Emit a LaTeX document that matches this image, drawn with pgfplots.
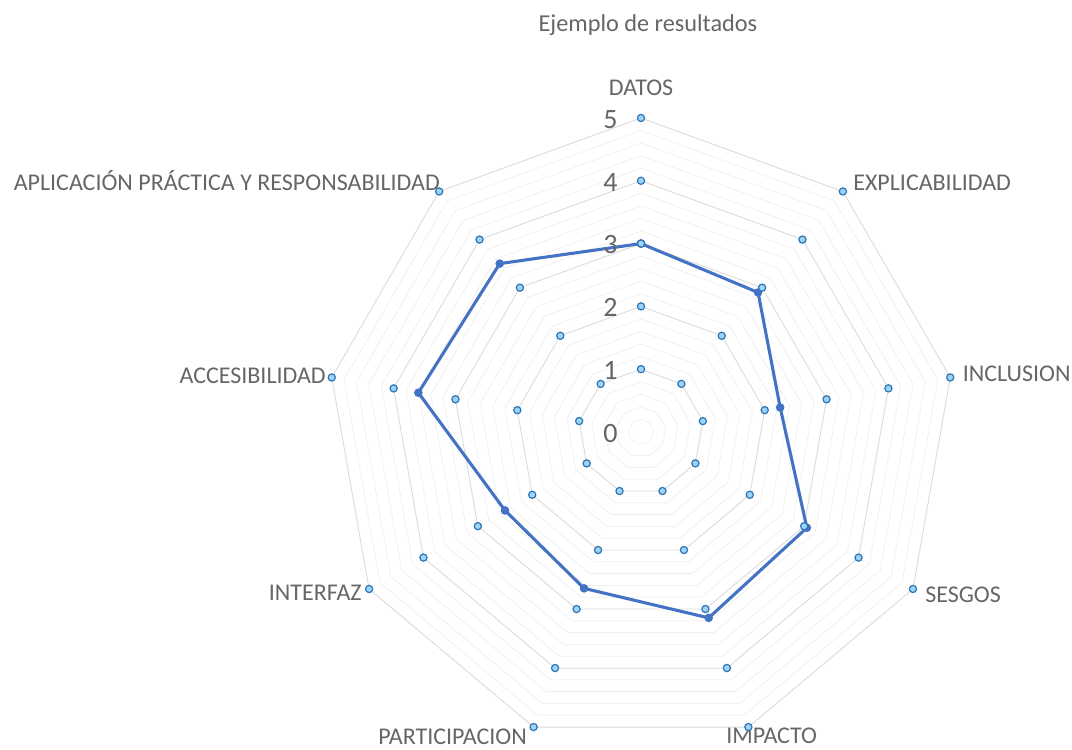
\documentclass[border=0pt]{standalone}
\usepackage{fontspec}
\setmainfont{Carlito}
\usepackage{pgfplots}
\pgfplotsset{compat=1.18}
\definecolor{txt}{HTML}{666666}
\definecolor{mainblue}{HTML}{4472C4}
\definecolor{mkfill}{HTML}{9DD3F5}
\definecolor{mkedge}{HTML}{2E75B6}
\definecolor{majgrid}{HTML}{DCDCDC}
\definecolor{mingrid}{HTML}{F0F0F0}
\begin{document}
\begin{tikzpicture}
\begin{axis}[
  name=ax,
  x=47.1pt, y=47.1pt,
  xmin=-10.207, xmax=6.863, ymin=-5.048, ymax=6.879,
  hide axis, clip=false, scale only axis,
]
\path (rel axis cs:0,0) rectangle (rel axis cs:1,1);
% minor grid polygons
\pgfplotsinvokeforeach{0.2,0.4,0.6,0.8,1.2,1.4,1.6,1.8,2.2,2.4,2.6,2.8,3.2,3.4,3.6,3.8,4.2,4.4,4.6,4.8}{
  \addplot[mingrid, line width=0.6pt, data cs=polar, forget plot] coordinates {(90,#1) (50,#1) (10,#1) (-30,#1) (-70,#1) (-110,#1) (-150,#1) (170,#1) (130,#1) (90,#1)};
}
% major grid polygons
\pgfplotsinvokeforeach{1,2,3,4,5}{
  \addplot[majgrid, line width=0.7pt, data cs=polar, forget plot] coordinates {(90,#1) (50,#1) (10,#1) (-30,#1) (-70,#1) (-110,#1) (-150,#1) (170,#1) (130,#1) (90,#1)};
}
% main series
\addplot[mainblue, line width=2.3pt, mark=*, mark size=2pt, mark options={fill=mainblue, draw=mainblue}, data cs=polar] coordinates {
  (90,3) (50,2.9) (10,2.25) (-30,3.05) (-70,3.15) (-110,2.65) (-150,2.5) (170,3.6) (130,3.5) (90,3)};
% constant-level marker series
\pgfplotsinvokeforeach{1,2,3,4,5}{
  \addplot[only marks, mark=*, mark size=2.7pt, mark options={fill=mkfill, draw=mkedge, line width=0.9pt}, data cs=polar] coordinates {(90,#1) (50,#1) (10,#1) (-30,#1) (-70,#1) (-110,#1) (-150,#1) (170,#1) (130,#1)};
}
% tick labels
\node[anchor=east, text=txt, font=\fontsize{21}{25}\selectfont, inner sep=0pt] at (axis cs:-0.37,-0.02) {0};
\node[anchor=east, text=txt, font=\fontsize{21}{25}\selectfont, inner sep=0pt] at (axis cs:-0.37,0.98) {1};
\node[anchor=east, text=txt, font=\fontsize{21}{25}\selectfont, inner sep=0pt] at (axis cs:-0.37,1.98) {2};
\node[anchor=east, text=txt, font=\fontsize{21}{25}\selectfont, inner sep=0pt] at (axis cs:-0.37,2.98) {3};
\node[anchor=east, text=txt, font=\fontsize{21}{25}\selectfont, inner sep=0pt] at (axis cs:-0.37,3.98) {4};
\node[anchor=east, text=txt, font=\fontsize{21}{25}\selectfont, inner sep=0pt] at (axis cs:-0.37,4.98) {5};
% title
\node[text=txt, font=\fontsize{18.2}{21}\selectfont] at (axis cs:0.11,6.48) {Ejemplo de resultados};
% category labels
\node[text=txt, font=\fontsize{18}{21}\selectfont, inner sep=0pt, anchor=center] at (axis cs:0,5.478) {DATOS};
\node[text=txt, font=\fontsize{18}{21}\selectfont, inner sep=0pt, anchor=west] at (axis cs:3.376,3.965) {EXPLICABILIDAD};
\node[text=txt, font=\fontsize{18}{21}\selectfont, inner sep=0pt, anchor=west] at (axis cs:5.12,0.924) {INCLUSION};
\node[text=txt, font=\fontsize{18}{21}\selectfont, inner sep=0pt, anchor=west] at (axis cs:4.522,-2.596) {SESGOS};
\node[text=txt, font=\fontsize{18}{21}\selectfont, inner sep=0pt, anchor=west] at (axis cs:1.354,-4.841) {IMPACTO};
\node[text=txt, font=\fontsize{18}{21}\selectfont, inner sep=0pt, anchor=east] at (axis cs:-1.815,-4.857) {PARTICIPACION};
\node[text=txt, font=\fontsize{18}{21}\selectfont, inner sep=0pt, anchor=east] at (axis cs:-4.443,-2.564) {INTERFAZ};
\node[text=txt, font=\fontsize{18}{21}\selectfont, inner sep=0pt, anchor=east] at (axis cs:-5.016,0.892) {ACCESIBILIDAD};
\node[text=txt, font=\fontsize{18}{21}\selectfont, inner sep=0pt, anchor=east] at (axis cs:-3.2,3.997) {APLICACIÓN PRÁCTICA Y RESPONSABILIDAD};
\end{axis}
\pgfresetboundingbox
\path (ax.south west) rectangle (ax.north east);
\end{tikzpicture}
\end{document}
